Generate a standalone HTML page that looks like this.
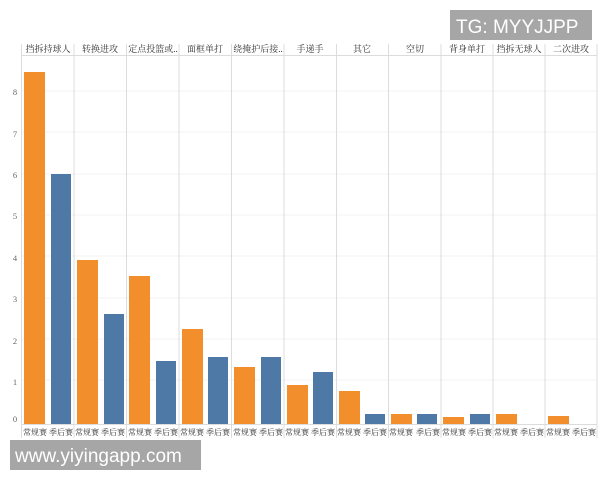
<!DOCTYPE html>
<html><head><meta charset="utf-8"><style>
body{margin:0;background:#fff;width:600px;height:480px;overflow:hidden}
text{font-family:"Liberation Serif","Noto Serif CJK SC",serif}
</style></head><body>
<svg width="600" height="480" viewBox="0 0 600 480" xmlns="http://www.w3.org/2000/svg">
<g stroke="#f3f3f3" stroke-width="1">
<line x1="21" y1="380" x2="597" y2="380"/><line x1="21" y1="339" x2="597" y2="339"/><line x1="21" y1="298" x2="597" y2="298"/><line x1="21" y1="256" x2="597" y2="256"/><line x1="21" y1="215" x2="597" y2="215"/><line x1="21" y1="174" x2="597" y2="174"/><line x1="21" y1="132" x2="597" y2="132"/><line x1="21" y1="91" x2="597" y2="91"/>
</g>
<g stroke="#dcdcdc" stroke-width="1">
<line x1="21.5" y1="44" x2="21.5" y2="438"/><line x1="74" y1="44" x2="74" y2="438"/><line x1="126.5" y1="44" x2="126.5" y2="438"/><line x1="179" y1="44" x2="179" y2="438"/><line x1="231.5" y1="44" x2="231.5" y2="438"/><line x1="284" y1="44" x2="284" y2="438"/><line x1="336.5" y1="44" x2="336.5" y2="438"/><line x1="388.5" y1="44" x2="388.5" y2="438"/><line x1="441" y1="44" x2="441" y2="438"/><line x1="493" y1="44" x2="493" y2="438"/><line x1="545" y1="44" x2="545" y2="438"/><line x1="597" y1="44" x2="597" y2="438"/>
<line x1="21" y1="55.5" x2="597" y2="55.5"/><line x1="21" y1="424.5" x2="597" y2="424.5"/>
</g>
<g font-size="9" fill="#333" text-anchor="middle">
<text x="48" y="52">挡拆持球人</text><text x="100" y="52">转换进攻</text><text x="153" y="52">定点投篮或..</text><text x="205" y="52">面框单打</text><text x="258" y="52">绕掩护后接..</text><text x="310" y="52">手递手</text><text x="362" y="52">其它</text><text x="415" y="52">空切</text><text x="467" y="52">背身单打</text><text x="519" y="52">挡拆无球人</text><text x="571" y="52">二次进攻</text>
</g>
<g font-size="8.5" fill="#666" text-anchor="middle">
<text x="15" y="422">0</text><text x="15" y="385">1</text><text x="15" y="344">2</text><text x="15" y="302">3</text><text x="15" y="261">4</text><text x="15" y="219">5</text><text x="15" y="178">6</text><text x="15" y="137">7</text><text x="15" y="95">8</text>
</g>
<g fill="#f28e2b">
<rect x="24" y="72" width="21" height="352"/>
<rect x="77" y="260" width="21" height="164"/>
<rect x="129" y="276" width="21" height="148"/>
<rect x="182" y="329" width="21" height="95"/>
<rect x="234" y="367" width="21" height="57"/>
<rect x="287" y="385" width="21" height="39"/>
<rect x="339" y="391" width="21" height="33"/>
<rect x="391" y="414" width="21" height="10"/>
<rect x="443" y="417" width="21" height="7"/>
<rect x="496" y="414" width="21" height="10"/>
<rect x="548" y="416" width="21" height="8"/>
</g>
<g fill="#4e79a7">
<rect x="51" y="174" width="20" height="250"/>
<rect x="104" y="314" width="20" height="110"/>
<rect x="156" y="361" width="20" height="63"/>
<rect x="208" y="357" width="20" height="67"/>
<rect x="261" y="357" width="20" height="67"/>
<rect x="313" y="372" width="20" height="52"/>
<rect x="365" y="414" width="20" height="10"/>
<rect x="417" y="414" width="20" height="10"/>
<rect x="470" y="414" width="20" height="10"/>
</g>
<g font-size="8" fill="#333" text-anchor="middle">
<text x="35" y="435">常规赛</text><text x="61" y="435">季后赛</text><text x="87" y="435">常规赛</text><text x="113" y="435">季后赛</text><text x="140" y="435">常规赛</text><text x="166" y="435">季后赛</text><text x="192" y="435">常规赛</text><text x="218" y="435">季后赛</text><text x="245" y="435">常规赛</text><text x="271" y="435">季后赛</text><text x="297" y="435">常规赛</text><text x="323" y="435">季后赛</text><text x="349" y="435">常规赛</text><text x="375" y="435">季后赛</text><text x="401" y="435">常规赛</text><text x="428" y="435">季后赛</text><text x="454" y="435">常规赛</text><text x="480" y="435">季后赛</text><text x="506" y="435">常规赛</text><text x="532" y="435">季后赛</text><text x="558" y="435">常规赛</text><text x="584" y="435">季后赛</text>
</g>
<rect x="450" y="10" width="142" height="30" fill="#a6a6a6"/>
<text x="456" y="33" font-size="19" fill="#fff" style="font-family:'Liberation Sans',sans-serif">TG: MYYJJPP</text>
<rect x="10" y="440" width="191" height="30" fill="#a6a6a6"/>
<text x="15" y="462" font-size="19" fill="#fff" style="font-family:'Liberation Sans',sans-serif">www.yiyingapp.com</text>
</svg>
</body></html>
